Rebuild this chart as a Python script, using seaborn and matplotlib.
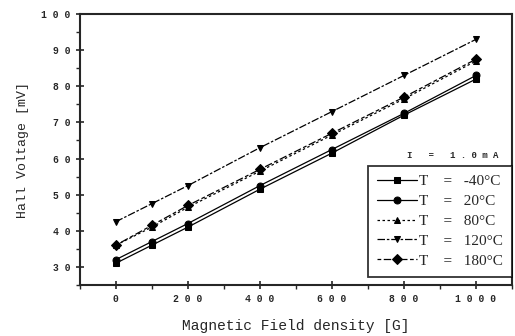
import numpy as np
import pandas as pd
import matplotlib
matplotlib.use("Agg")
import matplotlib.pyplot as plt
import seaborn as sns
from matplotlib.ticker import MultipleLocator

# data
field = [0, 100, 200, 400, 600, 800, 1000]
v_m40 = [31, 36, 41, 51.5, 61.5, 72, 82]
v_20 = [32, 37, 42, 52.5, 62.5, 72.5, 83]
v_80 = [36, 41, 46.5, 56.5, 66.5, 76.5, 87]
v_120 = [42.5, 47.5, 52.5, 63, 73, 83, 93]
v_180 = [36, 41.5, 47, 57, 67, 77, 87.5]
labels = ["T    =   -40°C", "T    =   20°C", "T    =   80°C",
          "T    =   120°C", "T    =   180°C"]
y_ticks = [30, 40, 50, 60, 70, 80, 90, 100]
x_ticks = [0, 200, 400, 600, 800, 1000]

series = [v_m40, v_20, v_80, v_120, v_180]
df = pd.DataFrame({
    "B": field * len(series),
    "V": sum(series, []),
    "T": np.repeat(labels, len(field)),
})

sns.set_style("ticks")
plt.rcParams['font.family'] = ['Liberation Mono', 'DejaVu Sans']

fig = plt.figure(figsize=(5.15, 3.36), dpi=100)
ax = fig.add_axes([0.155, 0.152, 0.839, 0.806])

markers = dict(zip(labels, ["s", "o", "^", "v", "D"]))
dashes = dict(zip(labels, ["", "", (2, 2), (6, 1.5, 2, 1.5), (3, 2, 6, 2)]))
sns.lineplot(data=df, x="B", y="V", hue="T", style="T", markers=markers,
             dashes=dashes, palette=["black"] * 5, linewidth=0.9,
             markersize=5, markeredgecolor="black", ax=ax)

ax.set_xlim(-100, 1100)
ax.set_ylim(25, 100)
ax.set_xticks(x_ticks)
ax.set_yticks(y_ticks)
ax.set_xticklabels([" ".join(str(t)) for t in x_ticks], fontsize=7, fontweight="bold")
ax.set_yticklabels([" ".join(str(t)) for t in y_ticks], fontsize=7, fontweight="bold")
ax.xaxis.set_minor_locator(MultipleLocator(100))
ax.yaxis.set_minor_locator(MultipleLocator(5))
ax.tick_params(axis="both", which="major", direction="inout", length=6, width=1.2)
ax.tick_params(axis="both", which="minor", direction="out", length=3, width=1)
for s in ax.spines.values():
    s.set_linewidth(1.5)
    s.set_visible(True)

ax.set_xlabel("Magnetic Field density [G]", fontsize=10.5, labelpad=11)
ax.set_ylabel("Hall Voltage [mV]", fontsize=9.5, labelpad=9)

leg = ax.legend(loc="lower right", bbox_to_anchor=(1.0, 0.03), frameon=True,
                fancybox=False, edgecolor="black", handlelength=2.6,
                prop={"family": "Liberation Serif", "size": 11},
                labelspacing=0.4, borderpad=0.6, handletextpad=0.15,
                borderaxespad=0.0)
leg.get_frame().set_linewidth(1.3)
ax.text(0.968, 0.46, "I   =   1 . 0 m A", transform=ax.transAxes, ha="right",
        va="bottom", fontsize=6.5, fontweight="bold")

fig.savefig("out.png", dpi=100)
